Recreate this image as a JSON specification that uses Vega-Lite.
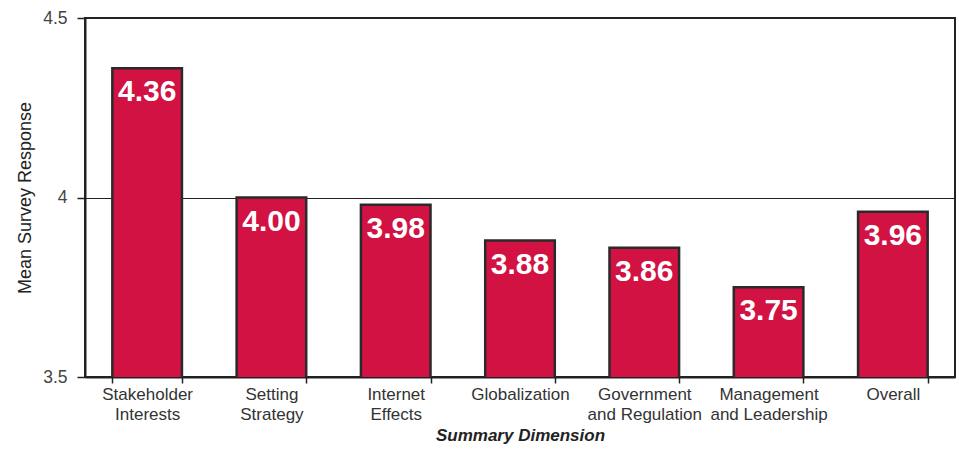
{
  "$schema": "https://vega.github.io/schema/vega-lite/v6.json",
  "width": 870,
  "height": 359,
  "autosize": {"type": "none"},
  "padding": {"left": 85, "top": 18, "right": 4, "bottom": 72},
  "background": "white",
  "config": {
    "font": "Liberation Sans",
    "view": {"stroke": "#222", "strokeWidth": 2}
  },
  "data": {
    "values": [
      {"dimension": "Stakeholder|Interests", "value": 4.36, "label": "4.36"},
      {"dimension": "Setting|Strategy", "value": 4.00, "label": "4.00"},
      {"dimension": "Internet|Effects", "value": 3.98, "label": "3.98"},
      {"dimension": "Globalization", "value": 3.88, "label": "3.88"},
      {"dimension": "Government|and Regulation", "value": 3.86, "label": "3.86"},
      {"dimension": "Management|and Leadership", "value": 3.75, "label": "3.75"},
      {"dimension": "Overall", "value": 3.96, "label": "3.96"}
    ]
  },
  "encoding": {
    "x": {
      "field": "dimension",
      "type": "nominal",
      "sort": null,
      "scale": {"paddingInner": 0.44, "paddingOuter": 0.22},
      "axis": {
        "title": "Summary Dimension",
        "titleFontStyle": "italic",
        "titleFontWeight": "bold",
        "titleFontSize": 17,
        "titleColor": "#222",
        "titlePadding": 5,
        "labelAngle": 0,
        "labelFontSize": 17,
        "labelColor": "#333",
        "labelLineHeight": 20,
        "labelPadding": 3,
        "labelExpr": "split(datum.label, '|')",
        "domainColor": "#222",
        "domainWidth": 2,
        "tickBand": "extent",
        "tickColor": "#222",
        "tickSize": 6,
        "tickWidth": 1.5
      }
    }
  },
  "layer": [
    {
      "mark": {"type": "bar", "color": "#d11242", "stroke": "#2a2a2a", "strokeWidth": 2.5, "clip": true},
      "encoding": {
        "y": {
          "field": "value",
          "type": "quantitative",
          "scale": {"domain": [3.5, 4.5], "zero": false, "nice": false},
          "axis": {
            "title": "Mean Survey Response",
            "titleFontSize": 18,
            "titleFontWeight": "normal",
            "titleColor": "#222",
            "titlePadding": 8,
            "values": [3.5, 4, 4.5],
            "labelExpr": "datum.value == 4 ? '4' : format(datum.value, '.1f')",
            "labelFontSize": 17.5,
            "labelColor": "#444",
            "labelPadding": 10,
            "grid": true,
            "gridColor": "#222",
            "gridWidth": 1.2,
            "domainColor": "#222",
            "domainWidth": 2,
            "tickColor": "#222",
            "tickSize": 8,
            "tickWidth": 1.5
          }
        }
      }
    },
    {
      "mark": {"type": "text", "color": "white", "fontWeight": "bold", "fontSize": 30, "baseline": "middle", "dy": 24},
      "encoding": {
        "y": {"field": "value", "type": "quantitative"},
        "text": {"field": "label"}
      }
    }
  ]
}
